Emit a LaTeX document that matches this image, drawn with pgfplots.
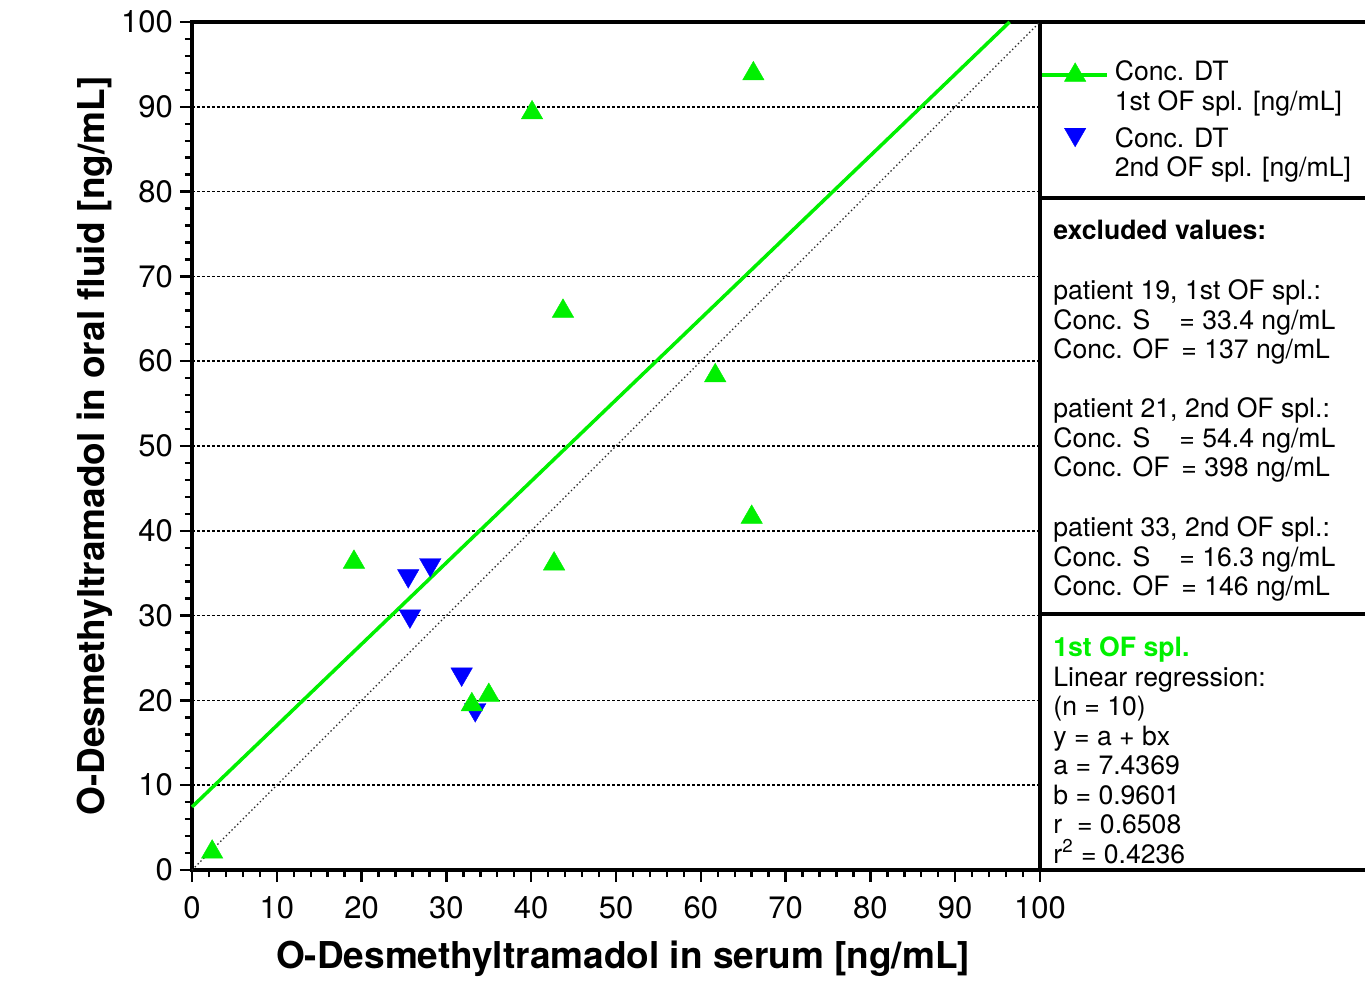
\documentclass[border=0pt]{standalone}
\usepackage{pgfplots}
\pgfplotsset{compat=1.18}
\usepackage{fontspec}
\setmainfont{TeX Gyre Heros}
\definecolor{lgreen}{RGB}{0,240,0}
\definecolor{lblue}{RGB}{0,0,255}
\newcommand\pf{\fontsize{13.3}{15}\selectfont}
\begin{document}
\begin{tikzpicture}
\useasboundingbox (-96pt,-58.5pt) rectangle (586.5pt,435pt);
\begin{axis}[
  name=ax,
  at={(0pt,0pt)}, anchor=south west,
  scale only axis, width=424pt, height=424pt,
  xmin=0, xmax=100, ymin=0, ymax=100,
  xtick={0,10,...,100}, ytick={0,10,...,100},
  minor x tick num=4, minor y tick num=4,
  tick align=outside, tick pos=left,
  major tick length=6pt, minor tick length=3.5pt,
  every tick/.style={black, line width=1.2pt},
  axis line style={line width=2pt},
  ymajorgrids,
  grid style={black, line width=0.8pt, dash pattern=on 1.5pt off 1pt},
  /pgf/number format/assume math mode=true,
  tick label style={font=\fontsize{15.5}{18}\selectfont},
  xticklabel style={yshift=-3.5pt},
  xlabel={O-Desmethyltramadol in serum [ng/mL]},
  ylabel={O-Desmethyltramadol in oral fluid [ng/mL]},
  label style={font=\fontsize{18.5}{22}\selectfont\bfseries},
  xlabel style={at={(axis description cs:0.5083,-0.1156)}, anchor=base},
  ylabel style={at={(axis description cs:-0.1026,0.5)}, anchor=base},
  clip=false,
  legend style={at={(axis description cs:1,1)}, anchor=north west, xshift=0pt, yshift=-19pt,
    draw=none, fill=none, inner sep=0pt, font=\pf, row sep=0pt, column sep=3pt,
    nodes={inner sep=0pt, text height=10.2pt, text depth=4.6pt}},
  legend cell align=left,
]
\addlegendimage{lgreen, mark=triangle*, mark size=6.2pt, mark options={line width=0.2pt},
  legend image code/.code={\draw[lgreen, line width=1.75pt, mark=none] (0pt,0pt) -- (32.5pt,0pt);
    \draw[only marks] plot coordinates {(16.5pt,0pt)};}}
\addlegendentry{Conc. DT}
\addlegendimage{empty legend}
\addlegendentry[text depth=8.1pt]{1st OF spl. [ng/mL]}
\addlegendimage{only marks, lblue, mark=triangle*, mark size=6.2pt, mark options={rotate=180, line width=0.2pt},
  legend image code/.code={\draw[only marks] plot coordinates {(16.5pt,3.5pt)};}}
\addlegendentry{Conc. DT}
\addlegendimage{empty legend}
\addlegendentry{2nd OF spl. [ng/mL]}

\addplot[black!85, line width=0.7pt, dash pattern=on 0.7pt off 1.3pt, forget plot] coordinates {(0,0) (100,100)};
\addplot[lgreen, line width=1.75pt, forget plot] coordinates {(0,7.4369) (96.41,100)};
\addplot[only marks, lblue, mark=triangle*, mark size=6.2pt, mark options={rotate=180, line width=0.2pt}, forget plot] coordinates {
(25.5,34.7) (28.1,36.0) (25.7,29.95) (31.8,23.1) (33.4,18.9)};
\addplot[only marks, lgreen, mark=triangle*, mark size=6.2pt, mark options={line width=0.2pt}, forget plot] coordinates {
(2.38,2.12) (19.1,36.3) (40.1,89.3) (43.75,65.9) (42.7,36.1) (66.2,93.9) (61.7,58.3) (66.0,41.6) (33.0,19.5) (35.0,20.6)};
\end{axis}
\begin{scope}[shift={(ax.south west)}]
\draw[line width=2pt] (424pt,424pt) -- (590pt,424pt);
\draw[line width=2pt] (424pt,336pt) -- (590pt,336pt);
\draw[line width=2pt] (424pt,128pt) -- (590pt,128pt);
\draw[line width=2pt] (424pt,0pt) -- (590pt,0pt);
\tikzset{pl/.style={anchor=base west, inner sep=0pt, font=\pf}}
\node[pl] at (430.5pt,315.5pt) {\bfseries excluded values:};
\node[pl] at (430.5pt,285.25pt) {patient 19, 1st OF spl.:};
\node[pl] at (430.5pt,270.5pt) {\makebox[63pt][l]{Conc. S}= 33.4 ng/mL};
\node[pl] at (430.5pt,255.75pt) {\makebox[64pt][l]{Conc. OF}= 137 ng/mL};
\node[pl] at (430.5pt,226.25pt) {patient 21, 2nd OF spl.:};
\node[pl] at (430.5pt,211.5pt) {\makebox[63pt][l]{Conc. S}= 54.4 ng/mL};
\node[pl] at (430.5pt,196.75pt) {\makebox[64pt][l]{Conc. OF}= 398 ng/mL};
\node[pl] at (430.5pt,166.75pt) {patient 33, 2nd OF spl.:};
\node[pl] at (430.5pt,152pt) {\makebox[63pt][l]{Conc. S}= 16.3 ng/mL};
\node[pl] at (430.5pt,137.25pt) {\makebox[64pt][l]{Conc. OF}= 146 ng/mL};
\node[pl, text=lgreen] at (430.5pt,106.75pt) {\bfseries 1st OF spl.};
\node[pl] at (430.5pt,92pt) {Linear regression:};
\node[pl] at (430.5pt,77.25pt) {(n = 10)};
\node[pl] at (430.5pt,62.5pt) {y = a + bx};
\node[pl] at (430.5pt,47.75pt) {a = 7.4369};
\node[pl] at (430.5pt,33pt) {b = 0.9601};
\node[pl] at (430.5pt,18.25pt) {r~~= 0.6508};
\node[pl] at (430.5pt,3.5pt) {r\textsuperscript{2} = 0.4236};
\end{scope}
\end{tikzpicture}
\end{document}
